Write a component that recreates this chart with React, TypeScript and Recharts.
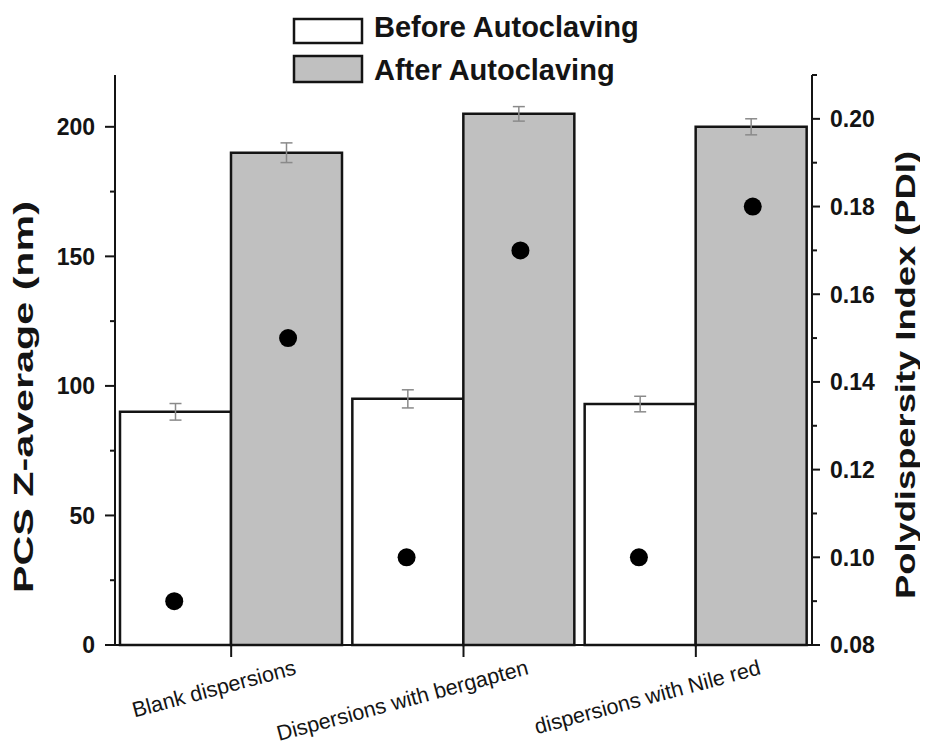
import React from 'react';
import { ComposedChart, Bar, XAxis, YAxis, Scatter, ErrorBar } from 'recharts';

const categories = ['Blank dispersions', 'Dispersions with bergapten', 'dispersions with Nile red'];
const seriesNames = ['Before Autoclaving', 'After Autoclaving'];
const zBefore = [90, 95, 93];
const zBeforeErr = [3.2, 3.5, 3.0];
const zAfter = [190, 205, 200];
const zAfterErr = [3.8, 2.8, 3.1];
const pdiBefore = [0.09, 0.1, 0.1];
const pdiAfter = [0.15, 0.17, 0.18];
const leftMajorTicks = [0, 50, 100, 150, 200];
const leftMinorTicks = [25, 75, 125, 175];
const rightMajorTicks = [0.08, 0.1, 0.12, 0.14, 0.16, 0.18, 0.2];
const rightMinorTicks = [0.09, 0.11, 0.13, 0.15, 0.17, 0.19, 0.21];
const leftTitle = 'PCS Z-average (nm)';
const rightTitle = 'Polydispersity Index (PDI)';

const FONT = '"Liberation Sans", Arial, sans-serif';
const INK = '#141414';
const DOT_OFFSET = 0.245;

const barData = categories.map((name, i) => ({
  name,
  before: zBefore[i],
  beforeErr: zBeforeErr[i],
  after: zAfter[i],
  afterErr: zAfterErr[i],
}));
const pdiBeforeData = categories.map((_, i) => ({ x: i + 0.5 - DOT_OFFSET, pdi: pdiBefore[i] }));
const pdiAfterData = categories.map((_, i) => ({ x: i + 0.5 + DOT_OFFSET, pdi: pdiAfter[i] }));

const leftTicks = [...leftMajorTicks, ...leftMinorTicks].sort((a, b) => a - b);
const rightTicks = [...rightMajorTicks, ...rightMinorTicks].sort((a, b) => a - b);
const isMajor = (list: number[], v: number) => list.some((m) => Math.abs(m - v) < 1e-9);

const LeftTick = (props: any) => {
  const { x, y, payload } = props;
  const major = isMajor(leftMajorTicks, payload.value);
  return (
    <g>
      <line x1={x + (major ? 10 : 15)} x2={x + 20} y1={y} y2={y} stroke={INK} strokeWidth={2} />
      {major && (
        <text x={x} y={y} dy="0.36em" textAnchor="end" fontFamily={FONT} fontWeight="bold" fontSize={23} fill={INK}>
          {payload.value}
        </text>
      )}
    </g>
  );
};

const RightTick = (props: any) => {
  const { x, y, payload } = props;
  const major = isMajor(rightMajorTicks, payload.value);
  return (
    <g>
      <line x1={x - 18} x2={x - (major ? 10 : 13)} y1={y} y2={y} stroke={INK} strokeWidth={2} />
      {major && (
        <text x={x} y={y} dy="0.36em" textAnchor="start" fontFamily={FONT} fontWeight="bold" fontSize={23} fill={INK}>
          {Number(payload.value).toFixed(2)}
        </text>
      )}
    </g>
  );
};

const CatTick = (props: any) => {
  const { x, y, payload } = props;
  const tx = x + 66;
  const ty = y + 15;
  return (
    <text x={tx} y={ty} textAnchor="end" transform={`rotate(-15 ${tx} ${ty})`} fontFamily={FONT} fontSize={21.5} fill={INK}>
      {payload.value}
    </text>
  );
};

const Dot = (props: any) => <circle cx={props.cx} cy={props.cy} r={9} fill="#000" />;

const LeftLabel = (props: any) => {
  const vb = props.viewBox || { x: 27, y: 67, width: 80, height: 570 };
  const cx = vb.x - 11;
  const cy = vb.y + vb.height / 2 + 37;
  return (
    <text
      x={cx}
      y={cy}
      transform={`rotate(-90 ${cx} ${cy})`}
      textAnchor="middle"
      dominantBaseline="central"
      fontFamily={FONT}
      fontWeight="bold"
      fontSize={27}
      textLength={392}
      lengthAdjust="spacingAndGlyphs"
      fill={INK}
    >
      {leftTitle}
    </text>
  );
};

const RightLabel = (props: any) => {
  const vb = props.viewBox || { x: 804, y: 67, width: 85, height: 570 };
  const cx = vb.x + 94;
  const cy = vb.y + vb.height / 2 + 15;
  return (
    <text
      x={cx}
      y={cy}
      transform={`rotate(-90 ${cx} ${cy})`}
      textAnchor="middle"
      dominantBaseline="central"
      fontFamily={FONT}
      fontWeight="bold"
      fontSize={27}
      textLength={448}
      lengthAdjust="spacingAndGlyphs"
      fill={INK}
    >
      {rightTitle}
    </text>
  );
};

const legendFills = ['#ffffff', '#c0c0c0'];

export default function App() {
  return (
    <div style={{ position: 'relative', width: 920, height: 739 }}>
      <ComposedChart
        width={920}
        height={739}
        data={barData}
        margin={{ top: 67, right: 31, bottom: 7, left: 27 }}
        barCategoryGap={5}
        barGap={0}
      >
        <XAxis
          xAxisId="cat"
          dataKey="name"
          type="category"
          height={95}
          interval={0}
          tickSize={12}
          tickMargin={2}
          axisLine={{ stroke: INK, strokeWidth: 2 }}
          tickLine={{ stroke: INK, strokeWidth: 2 }}
          tick={<CatTick />}
        />
        <XAxis xAxisId="pos" type="number" dataKey="x" domain={[0, 3]} hide />
        <YAxis
          yAxisId="left"
          orientation="left"
          width={80}
          domain={[0, 220]}
          ticks={leftTicks}
          interval={0}
          tickSize={10}
          tickMargin={10}
          tickLine={false}
          axisLine={{ stroke: INK, strokeWidth: 2 }}
          tick={<LeftTick />}
          label={{ content: <LeftLabel /> }}
        />
        <YAxis
          yAxisId="right"
          orientation="right"
          dataKey="pdi"
          width={85}
          domain={[0.08, 0.21]}
          ticks={rightTicks}
          interval={0}
          tickSize={8}
          tickMargin={10}
          tickLine={false}
          axisLine={{ stroke: INK, strokeWidth: 2 }}
          tick={<RightTick />}
          label={{ content: <RightLabel /> }}
        />
        <Bar xAxisId="cat" yAxisId="left" dataKey="before" name={seriesNames[0]} fill={legendFills[0]} stroke={INK} strokeWidth={2.5} isAnimationActive={false}>
          <ErrorBar dataKey="beforeErr" width={6} stroke="#8a8a8a" strokeWidth={1.5} />
        </Bar>
        <Bar xAxisId="cat" yAxisId="left" dataKey="after" name={seriesNames[1]} fill={legendFills[1]} stroke={INK} strokeWidth={2.5} isAnimationActive={false}>
          <ErrorBar dataKey="afterErr" width={6} stroke="#8a8a8a" strokeWidth={1.5} />
        </Bar>
        <Scatter xAxisId="pos" yAxisId="right" data={pdiBeforeData} dataKey="pdi" shape={<Dot />} isAnimationActive={false} />
        <Scatter xAxisId="pos" yAxisId="right" data={pdiAfterData} dataKey="pdi" shape={<Dot />} isAnimationActive={false} />
      </ComposedChart>
      <svg width={920} height={100} style={{ position: 'absolute', left: 0, top: 0, pointerEvents: 'none' }}>
        {seriesNames.map((n, i) => (
          <g key={n}>
            <rect x={286} y={i === 0 ? 11 : 48} width={68} height={i === 0 ? 24 : 26} fill={legendFills[i]} stroke={INK} strokeWidth={2.5} />
            <text x={366} y={i === 0 ? 29 : 72} fontFamily={FONT} fontWeight="bold" fontSize={29} fill={INK}>
              {n}
            </text>
          </g>
        ))}
      </svg>
    </div>
  );
}
